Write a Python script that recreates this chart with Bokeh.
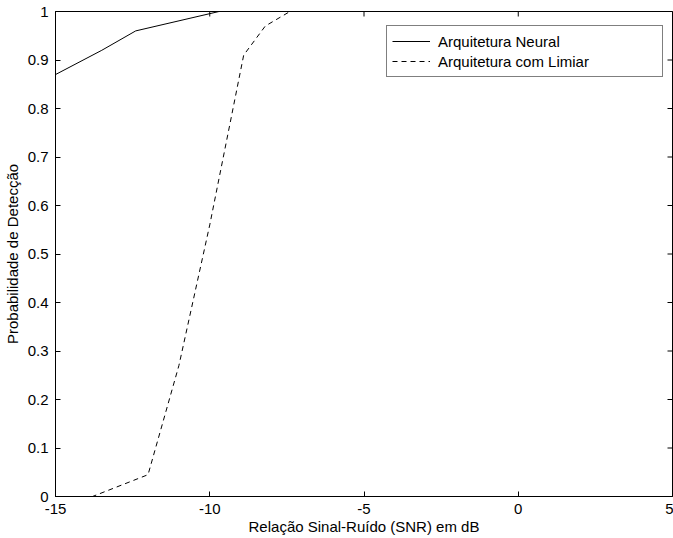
from bokeh.plotting import figure
from bokeh.models import FixedTicker, Range1d, Legend, LegendItem
from bokeh.embed import file_html
from bokeh.resources import INLINE

# Data
snr_neural = [-15, -13.5, -12.4, -9.7, -8.0, 5]
pd_neural = [0.87, 0.92, 0.96, 1.0, 1.0, 1.0]

snr_limiar = [-15, -13.8, -12.0, -11.0, -10.0, -8.9, -8.2, -7.4, 5]
pd_limiar = [0.0, 0.0, 0.045, 0.27, 0.56, 0.91, 0.97, 1.0, 1.0]

xticks = [-15, -10, -5, 0, 5]
xlabels = ["-15", "-10", "-5", "0", "5"]
yticks = [0, 0.1, 0.2, 0.3, 0.4, 0.5, 0.6, 0.7, 0.8, 0.9, 1]
ylabels = ["0", "0.1", "0.2", "0.3", "0.4", "0.5", "0.6", "0.7", "0.8", "0.9", "1"]

FONT = "Liberation Sans"
FS = "15px"

p = figure(width=673, height=538, output_backend="svg", toolbar_location=None,
           x_range=Range1d(-15, 5), y_range=Range1d(0, 1),
           min_border_left=54, min_border_right=1, min_border_top=11, min_border_bottom=42,
           x_axis_label="Relação Sinal-Ruído (SNR) em dB",
           y_axis_label="Probabilidade de Detecção")

p.xgrid.visible = False
p.ygrid.visible = False
p.outline_line_color = "black"
p.outline_line_width = 1
p.background_fill_color = "white"
p.border_fill_color = "white"

l1 = p.line(snr_neural, pd_neural, line_color="black", line_width=1)
l2 = p.line(snr_limiar, pd_limiar, line_color="black", line_width=1, line_dash="5 4")

# box ticks on the top and right edges (dash markers centred on the edge, clipped to the frame)
p.scatter(x=xticks, y=[1] * len(xticks), marker="dash", size=10, angle=1.5707963,
          line_color="black", line_width=1)
p.scatter(x=[5] * len(yticks), y=yticks, marker="dash", size=10,
          line_color="black", line_width=1)

for ax in (p.xaxis[0], p.yaxis[0]):
    ax.major_tick_in = 5
    ax.major_tick_out = 0
    ax.minor_tick_in = 0
    ax.minor_tick_out = 0
    ax.axis_line_color = "black"
    ax.major_tick_line_color = "black"
    ax.major_label_text_font = FONT
    ax.major_label_text_font_size = FS
    ax.major_label_text_color = "black"
    ax.axis_label_text_font = FONT
    ax.axis_label_text_font_size = FS
    ax.axis_label_text_font_style = "normal"
    ax.axis_label_text_color = "black"

p.xaxis[0].ticker = FixedTicker(ticks=xticks)
p.xaxis[0].major_label_overrides = {t: s for t, s in zip(xticks, xlabels)}
p.yaxis[0].ticker = FixedTicker(ticks=yticks)
p.yaxis[0].major_label_overrides = {t: s for t, s in zip(yticks, ylabels)}
p.xaxis[0].major_label_standoff = 7
p.xaxis[0].axis_label_standoff = 1
p.yaxis[0].major_label_standoff = 7
p.yaxis[0].axis_label_standoff = 4

legend = Legend(items=[LegendItem(label="Arquitetura Neural", renderers=[l1]),
                       LegendItem(label="Arquitetura com Limiar", renderers=[l2])],
                location=(331, 419))
legend.label_text_font = FONT
legend.label_text_font_size = FS
legend.label_text_color = "black"
legend.glyph_width = 38
legend.glyph_height = 20
legend.label_height = 20
legend.label_width = 219
legend.label_standoff = 8
legend.spacing = 0
legend.padding = 5
legend.margin = 0
legend.border_line_color = "black"
legend.border_line_width = 1
legend.background_fill_alpha = 1
legend.background_fill_color = "white"
p.add_layout(legend, "center")

open("out.html", "w").write(file_html(p, INLINE))
